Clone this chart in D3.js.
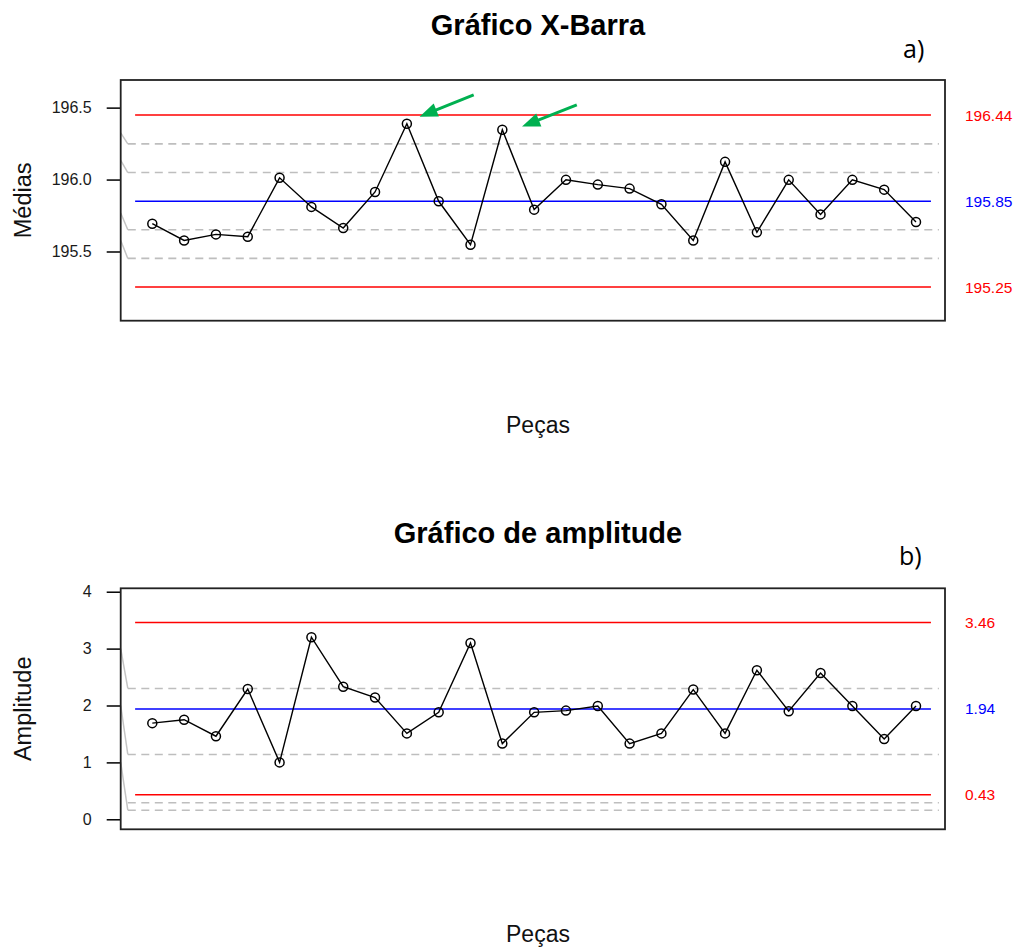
<!DOCTYPE html>
<html>
<head>
<meta charset="utf-8">
<script src="https://cdn.jsdelivr.net/npm/d3@7"></script>
<style>
  body { margin: 0; background: #fff; }
  svg { display: block; font-family: "Liberation Sans", Arial, sans-serif; }
</style>
</head>
<body>
<svg id="chart" width="1014" height="947"></svg>
<script>
// pieces 1..25
const pecas = [1, 2, 3, 4, 5, 6, 7, 8, 9, 10, 11, 12, 13, 14, 15, 16, 17, 18, 19, 20, 21, 22, 23, 24, 25];

// sample means (X-bar chart)
const medias = [195.693, 195.577, 195.619, 195.603, 196.012, 195.810, 195.663, 195.914, 196.388, 195.849,
                195.547, 196.346, 195.791, 195.998, 195.965, 195.937, 195.828, 195.577, 196.123, 195.633,
                195.998, 195.758, 195.998, 195.930, 195.705];
const mediasTicks = [195.5, 196.0, 196.5];
const mediasLimits = [196.448, 195.850, 195.253];          // UCL, CL, LCL
const mediasLimitLabels = ["196.44", "195.85", "195.25"];
const mediasSigma = [196.248, 196.049, 195.651, 195.452];  // dashed 1 and 2 sigma lines
const mediasSigmaFrom = [196.325, 196.134, 195.768, 195.577];

// sample ranges (R chart)
const amplitudes = [1.69, 1.75, 1.46, 2.29, 1.00, 3.20, 2.33, 2.14, 1.51, 1.88,
                    3.10, 1.33, 1.88, 1.91, 1.99, 1.33, 1.51, 2.28, 1.51, 2.62,
                    1.90, 2.57, 1.99, 1.41, 1.99];
const amplitudeTicks = [0, 1, 2, 3, 4];
const amplitudeLimits = [3.46, 1.94, 0.43];
const amplitudeLimitLabels = ["3.46", "1.94", "0.43"];
const amplitudeSigma = [2.30, 1.14, 0.29, 0.16];
const amplitudeSigmaFrom = [3.0, 2.0, null, 1.0];

// green arrows pointing at pieces 9 and 12 (data units: [piece, media])
const arrowTips = [[9.40, 196.437], [12.62, 196.368]];
const arrowTails = [[11.10, 196.588], [14.34, 196.519]];

const svg = d3.select("#chart");
const boxLeft = 120.7, boxRight = 945;
const limitColors = ["#ff0000", "#0000ff", "#ff0000"];

const xScale = d3.scaleLinear().domain([1, 25]).range([152.3, 916]);

function drawPanel(cfg) {
    const g = svg.append("g");
    const y = d3.scaleLinear().domain(cfg.yDomain).range([cfg.bottom, cfg.top]);

    // title
    g.append("text")
        .attr("x", 538)
        .attr("y", cfg.top - 45)
        .attr("text-anchor", "middle")
        .style("font-size", "29px")
        .style("font-weight", "bold")
        .text(cfg.title);

    g.append("text")
        .attr("x", cfg.tagX)
        .attr("y", cfg.tagY)
        .style("font-family", "'Open Sans', sans-serif")
        .style("font-size", "25px")
        .text(cfg.tag);

    // y axis
    const axis = d3.axisLeft(y)
        .tickValues(cfg.ticks)
        .tickSize(14)
        .tickPadding(15)
        .tickFormat(cfg.format);
    const ag = g.append("g")
        .attr("transform", `translate(${boxLeft},0)`)
        .call(axis);
    ag.select(".domain").remove();
    ag.selectAll(".tick line").attr("stroke", "#000").attr("stroke-width", 1.5);
    ag.selectAll(".tick text")
        .attr("fill", "#1a1a1a")
        .style("font-size", "16px")
        .style("font-family", "'Liberation Sans', Arial, sans-serif");

    // axis titles
    g.append("text")
        .attr("transform", `translate(30.5,${(cfg.top + cfg.bottom) / 2}) rotate(-90)`)
        .attr("text-anchor", "middle")
        .style("font-size", "23.5px")
        .attr("fill", "#111")
        .text(cfg.ylabel);
    g.append("text")
        .attr("x", 538)
        .attr("y", cfg.bottom + 112.5)
        .attr("text-anchor", "middle")
        .style("font-size", "23px")
        .attr("fill", "#111")
        .text("Peças");

    // sigma lines (dashed) and their connectors
    g.selectAll(".sigma")
        .data(cfg.sigma)
        .join("line")
        .attr("class", "sigma")
        .attr("x1", xScale(0.23))
        .attr("x2", xScale(25.72))
        .attr("y1", d => y(d))
        .attr("y2", d => y(d))
        .attr("stroke", "#bebebe")
        .attr("stroke-width", 1.6)
        .attr("stroke-dasharray", "8,5.5");

    g.selectAll(".slant")
        .data(cfg.sigma.map((d, i) => [cfg.sigmaFrom[i], d]).filter(d => d[0] != null))
        .join("line")
        .attr("class", "slant")
        .attr("x1", boxLeft)
        .attr("x2", xScale(0.23))
        .attr("y1", d => y(d[0]))
        .attr("y2", d => y(d[1]))
        .attr("stroke", "#c4c4c4")
        .attr("stroke-width", 1.5);

    // control limits
    g.selectAll(".limit")
        .data(cfg.limits)
        .join("line")
        .attr("class", "limit")
        .attr("x1", xScale(0.46))
        .attr("x2", xScale(25.47))
        .attr("y1", d => y(d))
        .attr("y2", d => y(d))
        .attr("stroke", (d, i) => limitColors[i])
        .attr("stroke-width", 1.5);

    g.selectAll(".limit-label")
        .data(cfg.limits)
        .join("text")
        .attr("class", "limit-label")
        .attr("x", 965)
        .attr("y", d => y(d))
        .attr("dy", "0.36em")
        .attr("fill", (d, i) => limitColors[i])
        .style("font-size", "15.5px")
        .text((d, i) => cfg.limitLabels[i]);

    // series
    const line = d3.line()
        .x((d, i) => xScale(pecas[i]))
        .y(d => y(d));
    g.append("path")
        .datum(cfg.values)
        .attr("d", line)
        .attr("fill", "none")
        .attr("stroke", "#000")
        .attr("stroke-width", 1.4);

    g.selectAll(".pt")
        .data(cfg.values)
        .join("circle")
        .attr("class", "pt")
        .attr("cx", (d, i) => xScale(pecas[i]))
        .attr("cy", d => y(d))
        .attr("r", 4.5)
        .attr("fill", "none")
        .attr("stroke", "#000")
        .attr("stroke-width", 1.5);

    // frame
    g.append("rect")
        .attr("x", boxLeft)
        .attr("y", cfg.top)
        .attr("width", boxRight - boxLeft)
        .attr("height", cfg.bottom - cfg.top)
        .attr("fill", "none")
        .attr("stroke", "#222")
        .attr("stroke-width", 1.8);

    return y;
}

const yMedias = drawPanel({
    title: "Gráfico X-Barra", tag: "a)", tagX: 903, tagY: 58,
    top: 80, bottom: 320.7, yDomain: [195.019, 196.692],
    ticks: mediasTicks, format: d3.format(".1f"), ylabel: "Médias",
    values: medias, limits: mediasLimits, limitLabels: mediasLimitLabels,
    sigma: mediasSigma, sigmaFrom: mediasSigmaFrom
});

drawPanel({
    title: "Gráfico de amplitude", tag: "b)", tagX: 899, tagY: 565,
    top: 588.3, bottom: 829.3, yDomain: [-0.176, 4.06],
    ticks: amplitudeTicks, format: d3.format("d"), ylabel: "Amplitude",
    values: amplitudes, limits: amplitudeLimits, limitLabels: amplitudeLimitLabels,
    sigma: amplitudeSigma, sigmaFrom: amplitudeSigmaFrom
});

// green annotation arrows
const green = "#00b050";
arrowTips.forEach((tipD, i) => {
    const tip = [xScale(tipD[0]), yMedias(tipD[1])];
    const tail = [xScale(arrowTails[i][0]), yMedias(arrowTails[i][1])];
    const dx = tip[0] - tail[0], dy = tip[1] - tail[1];
    const len = Math.hypot(dx, dy);
    const ux = dx / len, uy = dy / len;
    const headLen = 18, headW = 7;
    const base = [tip[0] - ux * headLen, tip[1] - uy * headLen];
    svg.append("line")
        .attr("x1", tail[0]).attr("y1", tail[1])
        .attr("x2", base[0] + ux * 2).attr("y2", base[1] + uy * 2)
        .attr("stroke", green)
        .attr("stroke-width", 3);
    svg.append("path")
        .attr("d", d3.line()([
            tip,
            [base[0] - uy * headW, base[1] + ux * headW],
            [base[0] + uy * headW, base[1] - ux * headW]
        ]) + "Z")
        .attr("fill", green);
});
</script>
</body>
</html>
